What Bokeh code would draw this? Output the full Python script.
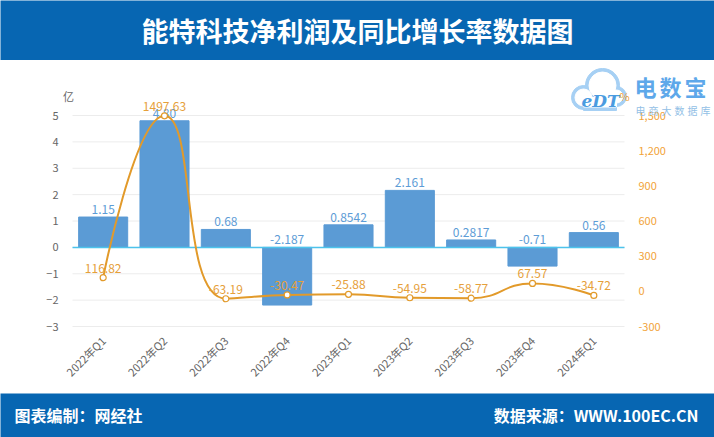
import math
from bokeh.plotting import figure
from bokeh.layouts import column
from bokeh.models import (Range1d, LinearAxis, FixedTicker, NumeralTickFormatter, Label)
from bokeh.core.properties import value
from bokeh.embed import file_html
from bokeh.resources import INLINE

# ---------------- data ----------------
categories = ["2022年Q1", "2022年Q2", "2022年Q3", "2022年Q4", "2023年Q1",
              "2023年Q2", "2023年Q3", "2023年Q4", "2024年Q1"]
net_profit = [1.15, 4.80, 0.68, -2.187, 0.8542, 2.161, 0.2817, -0.71, 0.56]
net_profit_labels = ["1.15", "4.80", "0.68", "-2.187", "0.8542", "2.161",
                     "0.2817", "-0.71", "0.56"]
yoy_growth = [116.82, 1497.63, -63.19, -30.47, -25.88, -54.95, -58.77, 67.57, -34.72]
yoy_growth_labels = ["116.82", "1497.63", "-63.19", "-30.47", "-25.88", "-54.95",
                     "-58.77", "67.57", "-34.72"]
left_ticks = [-3, -2, -1, 0, 1, 2, 3, 4, 5]
right_ticks = [-300, 0, 300, 600, 900, 1200, 1500]
left_unit = "亿"
right_unit = "%"
title_text = "能特科技净利润及同比增长率数据图"
footer_left = "图表编制：网经社"
footer_right = "数据来源：WWW.100EC.CN"
logo_name = "电数宝"
logo_sub = "电商大数据库"
logo_mark = "eDT"

# ---------------- styles / layout ----------------
FONT = "Noto Sans CJK SC"
BLUE_BAR = "#5b9bd5"
BAR_LABEL = "#5d9cd6"
LINE = "#e29a2a"
LINE_LABEL = "#e6a03a"
RIGHT_AXIS = "#f2a43a"
HEADER = "#0766b2"
ZERO = "#4cc3ec"
GRID = "#ececec"

W = 714
TITLE_H, MAIN_H, FOOT_H = 60, 333, 44
PLOT_L, PLOT_R = 72, 624            # page x of plotting area
PLOT_T, PLOT_B = 115, 326           # page y of top / bottom tick
N = len(categories)
PX_CAT = (PLOT_R - PLOT_L) / N
PX_UNIT_L = (PLOT_B - PLOT_T) / (left_ticks[-1] - left_ticks[0])
PX_UNIT_R = (PLOT_B - PLOT_T) / (right_ticks[-1] - right_ticks[0])
MAIN_TOP, MAIN_BOT = TITLE_H, TITLE_H + MAIN_H

x_start = -PLOT_L / PX_CAT
x_end = N + (W - PLOT_R) / PX_CAT
yl_start = left_ticks[0] - (MAIN_BOT - PLOT_B) / PX_UNIT_L
yl_end = left_ticks[-1] + (PLOT_T - MAIN_TOP) / PX_UNIT_L
yr_start = right_ticks[0] - (MAIN_BOT - PLOT_B) / PX_UNIT_R
yr_end = right_ticks[-1] + (PLOT_T - MAIN_TOP) / PX_UNIT_R


def dx(sx):
    return x_start + sx / PX_CAT


def dy(sy):
    return yl_start + (MAIN_BOT - sy) / PX_UNIT_L


def bar_fig(height):
    fig = figure(width=W, height=height, x_range=Range1d(0, W),
                 y_range=Range1d(0, height), output_backend="svg",
                 toolbar_location=None, min_border=0, frame_align=False)
    fig.axis.visible = False
    fig.grid.visible = False
    fig.outline_line_color = None
    fig.background_fill_color = HEADER
    fig.border_fill_color = HEADER
    return fig


# ---------------- title bar ----------------
t = bar_fig(TITLE_H)
t.text(x=[W / 2], y=[30], text=[title_text], text_align="center",
       text_baseline="middle", text_color="white", text_font=value(FONT),
       text_font_style="bold", text_font_size="27px")

# ---------------- main chart ----------------
p = figure(width=W, height=MAIN_H, x_range=Range1d(x_start, x_end),
           y_range=Range1d(yl_start, yl_end), output_backend="svg",
           toolbar_location=None, min_border=0, frame_align=False,
           x_axis_location=None, y_axis_location=None)
p.outline_line_color = None
p.grid.visible = False
p.extra_y_ranges = {"right": Range1d(yr_start, yr_end)}

x_pos = [i + 0.5 for i in range(N)]

left_axis = LinearAxis(ticker=FixedTicker(ticks=left_ticks), fixed_location=0)
right_axis = LinearAxis(y_range_name="right", ticker=FixedTicker(ticks=right_ticks),
                        formatter=NumeralTickFormatter(format="0,0"), fixed_location=N)
bottom_axis = LinearAxis(ticker=FixedTicker(ticks=x_pos),
                         major_label_overrides=dict(zip(x_pos, categories)),
                         fixed_location=left_ticks[0])
p.add_layout(left_axis, "left")
p.add_layout(right_axis, "right")
p.add_layout(bottom_axis, "below")
for ax in (left_axis, right_axis, bottom_axis):
    ax.axis_line_color = None
    ax.major_tick_line_color = None
    ax.minor_tick_line_color = None
    ax.major_label_text_font = FONT
    ax.major_label_text_font_size = "11px"
    ax.major_label_text_color = "#666666"
    ax.major_label_standoff = 8
right_axis.major_label_text_color = RIGHT_AXIS
bottom_axis.major_label_orientation = math.pi / 4
bottom_axis.major_label_standoff = 6

# horizontal grid lines at the left-axis ticks
p.segment(x0=[0] * len(left_ticks), x1=[N] * len(left_ticks), y0=left_ticks,
          y1=left_ticks, line_color=GRID, line_width=1)

# bars
p.vbar(x=x_pos, top=net_profit, width=0.8, color=BLUE_BAR)
p.segment(x0=[0], x1=[N], y0=[0], y1=[0], line_color=ZERO, line_width=1.5)
bar_label_y = [max(v, 0) for v in net_profit]
p.text(x=x_pos, y=bar_label_y, text=net_profit_labels, text_align="center",
       text_baseline="bottom", y_offset=-3, text_color=BAR_LABEL,
       text_font=value(FONT), text_font_size="12px")

# smooth growth line (ECharts-like smoothing in pixel space)
pts = [(xp * PX_CAT, g * PX_UNIT_R) for xp, g in zip(x_pos, yoy_growth)]
s = 0.5
x0s, y0s, x1s, y1s, cx0s, cy0s, cx1s, cy1s = [], [], [], [], [], [], [], []
cp0 = pts[0]
for k in range(1, N):
    x, y = pts[k]
    px_, py_ = pts[k - 1]
    if k == N - 1:
        cp1 = (x, y)
        ncp0 = (x, y)
    else:
        nx, ny = pts[k + 1]
        vx, vy = nx - px_, ny - py_
        d0 = math.hypot(x - px_, y - py_)
        d1 = math.hypot(nx - x, ny - y)
        r = d1 / (d0 + d1)
        ncx, ncy = x + vx * s * r, y + vy * s * r
        ncx = max(min(ncx, max(nx, x)), min(nx, x))
        ncy = max(min(ncy, max(ny, y)), min(ny, y))
        vx, vy = ncx - x, ncy - y
        c1x, c1y = x - vx * d0 / d1, y - vy * d0 / d1
        c1x = max(min(c1x, max(px_, x)), min(px_, x))
        c1y = max(min(c1y, max(py_, y)), min(py_, y))
        vx, vy = x - c1x, y - c1y
        ncp0 = (x + vx * d1 / d0, y + vy * d1 / d0)
        cp1 = (c1x, c1y)
    x0s.append(px_ / PX_CAT); y0s.append(py_ / PX_UNIT_R)
    x1s.append(x / PX_CAT); y1s.append(y / PX_UNIT_R)
    cx0s.append(cp0[0] / PX_CAT); cy0s.append(cp0[1] / PX_UNIT_R)
    cx1s.append(cp1[0] / PX_CAT); cy1s.append(cp1[1] / PX_UNIT_R)
    cp0 = ncp0

p.bezier(x0=x0s, y0=y0s, x1=x1s, y1=y1s, cx0=cx0s, cy0=cy0s, cx1=cx1s, cy1=cy1s,
         line_color=LINE, line_width=2, y_range_name="right")
p.scatter(x=x_pos, y=yoy_growth, size=6, marker="circle", fill_color="white",
          line_color=LINE, line_width=1.2, y_range_name="right")
p.text(x=x_pos, y=yoy_growth, text=yoy_growth_labels, text_align="center",
       text_baseline="bottom", y_offset=-5, text_color=LINE_LABEL,
       text_font=value(FONT), text_font_size="12px", y_range_name="right")

# unit labels
p.add_layout(Label(x=dx(68), y=dy(95), text=left_unit, text_align="center",
                   text_baseline="middle", text_color="#666666", text_font=FONT,
                   text_font_size="11px"))

# logo (cloud outline + name)
cloud = [(583, 97, 12), (602, 85, 17), (616, 96, 10)]
p.scatter(x=[dx(c[0]) for c in cloud], y=[dy(c[1]) for c in cloud],
          size=[2 * c[2] for c in cloud], marker="circle", color="#a6d0f4")
p.quad(left=[dx(583)], right=[dx(616)], top=[dy(97)], bottom=[dy(110)], color="#a6d0f4")
p.scatter(x=[dx(c[0]) for c in cloud], y=[dy(c[1]) for c in cloud],
          size=[2 * c[2] - 7 for c in cloud], marker="circle", color="white")
p.quad(left=[dx(583)], right=[dx(616)], top=[dy(97)], bottom=[dy(106.5)], color="white")
p.text(x=[dx(600)], y=[dy(100)], text=[logo_mark], text_align="center",
       text_baseline="middle", text_color="#4a9be0", text_font=value("DejaVu Serif"),
       text_font_style="bold italic", text_font_size="17px")
for i, ch in enumerate(logo_name):
    p.add_layout(Label(x=dx(645 + 25 * i), y=dy(85), text=ch, text_align="center",
                       text_baseline="middle", text_color="#5ea8ea", text_font=FONT,
                       text_font_style="bold", text_font_size="22px"))
for i, ch in enumerate(logo_sub):
    p.add_layout(Label(x=dx(640 + 13 * i), y=dy(110), text=ch, text_align="center",
                       text_baseline="middle", text_color="#93bfe6", text_font=FONT,
                       text_font_size="10px"))
p.add_layout(Label(x=dx(624), y=dy(95), text=right_unit, text_align="center",
                   text_baseline="middle", text_color=RIGHT_AXIS, text_font=FONT,
                   text_font_size="11px"))

# ---------------- footer bar ----------------
f = bar_fig(FOOT_H)
f.text(x=[14], y=[23], text=[footer_left], text_align="left",
       text_baseline="middle", text_color="white", text_font=value(FONT),
       text_font_style="bold", text_font_size="16px")
f.text(x=[698], y=[23], text=[footer_right], text_align="right",
       text_baseline="middle", text_color="white", text_font=value(FONT),
       text_font_style="bold", text_font_size="16px")

layout = column(t, p, f, spacing=0)
open("out.html", "w").write(file_html(layout, INLINE))
